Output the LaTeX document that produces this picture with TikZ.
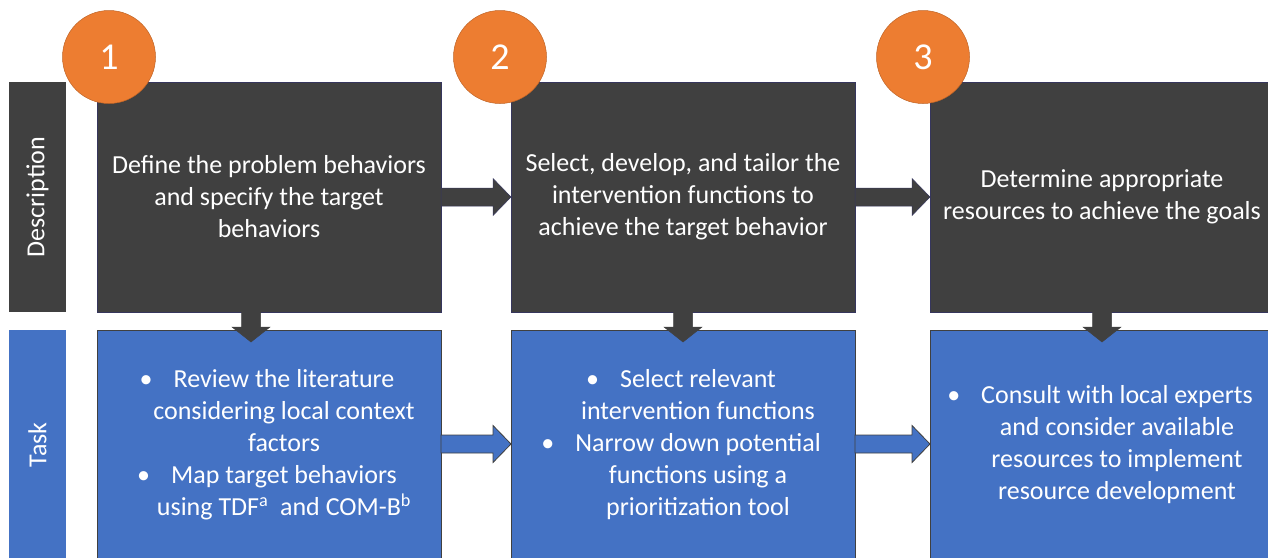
\documentclass[tikz,border=0pt]{standalone}
\usepackage{fontspec}
\setmainfont{Carlito}
\usepackage{tikz}
\usetikzlibrary{positioning, calc}
\definecolor{darkbg}{HTML}{404040}
\definecolor{taskblue}{HTML}{4472C4}
\definecolor{stepor}{HTML}{ED7D31}
\tikzset{
x=1pt, y=-1pt, % so positions can be read straight off the layout
node distance=18pt, % gap between a description box and its task box
every node/.style={outer sep=0pt, inner sep=0pt, text=white}, % no gaps around the boxes
dark/.style={fill=darkbg, draw=darkbg!85!blue, line width=0.5pt}, % description row
blue/.style={fill=taskblue, draw=black!75, line width=0.8pt}, % task row
sidebox/.style={minimum width=57pt, minimum height=230pt, font=\fontsize{26}{32}\selectfont}, % row labels
bigbox/.style={minimum width=344pt, minimum height=230pt, align=center, font=\fontsize{26}{32}\selectfont}, % the six boxes
tasktext/.style={align=center, font=\fontsize{26}{32}\selectfont}, % bullet lists
numcircle/.style={circle, fill=stepor, draw=stepor!80!black, line width=0.5pt, minimum size=93pt, font=\fontsize{38}{40}\selectfont}, % step numbers
% block arrow going right
rightarrow/.style={to path={
  ($(\tikztostart)+(0,9pt)$) -- ($(\tikztotarget)+(-18pt,9pt)$) -- ($(\tikztotarget)+(-18pt,18.5pt)$)
  -- (\tikztotarget) -- ($(\tikztotarget)+(-18pt,-18.5pt)$) -- ($(\tikztotarget)+(-18pt,-9pt)$)
  -- ($(\tikztostart)+(0,-9pt)$) -- cycle}},
% block arrow going down
downarrow/.style={to path={
  ($(\tikztostart)+(-9.5pt,0)$) -- ($(\tikztotarget)+(-9.5pt,15pt)$) -- ($(\tikztotarget)+(-19pt,15pt)$)
  -- (\tikztotarget) -- ($(\tikztotarget)+(19pt,15pt)$) -- ($(\tikztotarget)+(9.5pt,15pt)$)
  -- ($(\tikztostart)+(9.5pt,0)$) -- cycle}},
}
\newcommand{\bul}{\llap{\textbullet\hspace{21pt}}}

\begin{document}
\begin{tikzpicture}
    \useasboundingbox (0,0) rectangle (1268,557);
    \clip (0,0) rectangle (1268,557);
    % row labels
    \node[sidebox, fill=darkbg] (desc) at (37.5,197) {\rotatebox{90}{Description}};
    \node[sidebox, fill=taskblue, below=of desc] (task) {\rotatebox{90}{Task}};
    % description row
    \node[bigbox, dark, right=31pt of desc] (d1) {Define the problem behaviors\\and specify the target\\behaviors};
    \node[bigbox, dark, right=70pt of d1] (d2) {Select, develop, and tailor the\\intervention functions to\\achieve the target behavior};
    \node[bigbox, dark, right=75pt of d2] (d3) {Determine appropriate\\resources to achieve the goals};
    % task row
    \node[bigbox, blue, below=of d1] (t1) {};
    \node[bigbox, blue, below=of d2] (t2) {};
    \node[bigbox, blue, below=of d3] (t3) {};
    \node[tasktext] (l1) at ([xshift=15pt]t1.center) {\bul Review the literature\\considering local context\\factors\\\bul Map target behaviors\\using TDF\textsuperscript{a}\ \ and COM-B\textsuperscript{b}};
    \node[tasktext] (l2) at ([xshift=15pt]t2.center) {\bul Select relevant\\intervention functions\\\bul Narrow down potential\\functions using a\\prioritization tool};
    \node[tasktext] (l3) at ([xshift=15pt]t3.center) {\bul Consult with local experts\\and consider available\\resources to implement\\resource development};
    % arrows
    \draw[dark] (d1.east) to[rightarrow] (d2.west);
    \draw[dark] (d2.east) to[rightarrow] (d3.west);
    \draw[blue] ([yshift=1pt]t1.east) to[rightarrow] ([yshift=1pt]t2.west);
    \draw[blue] ([yshift=1pt]t2.east) to[rightarrow] ([yshift=1pt]t3.west);
    \draw[dark, draw=darkbg] ([xshift=-18pt]d1.south) to[downarrow] ([xshift=-18pt, yshift=-12pt]t1.north);
    \draw[dark, draw=darkbg] (d2.south) to[downarrow] ([yshift=-12pt]t2.north);
    \draw[dark, draw=darkbg] (d3.south) to[downarrow] ([yshift=-12pt]t3.north);
    % step numbers
    \node[numcircle] (n1) at (109,57) {1};
    \node[numcircle] (n2) at (500,57) {2};
    \node[numcircle] (n3) at (923,57) {3};
\end{tikzpicture}
\end{document}
